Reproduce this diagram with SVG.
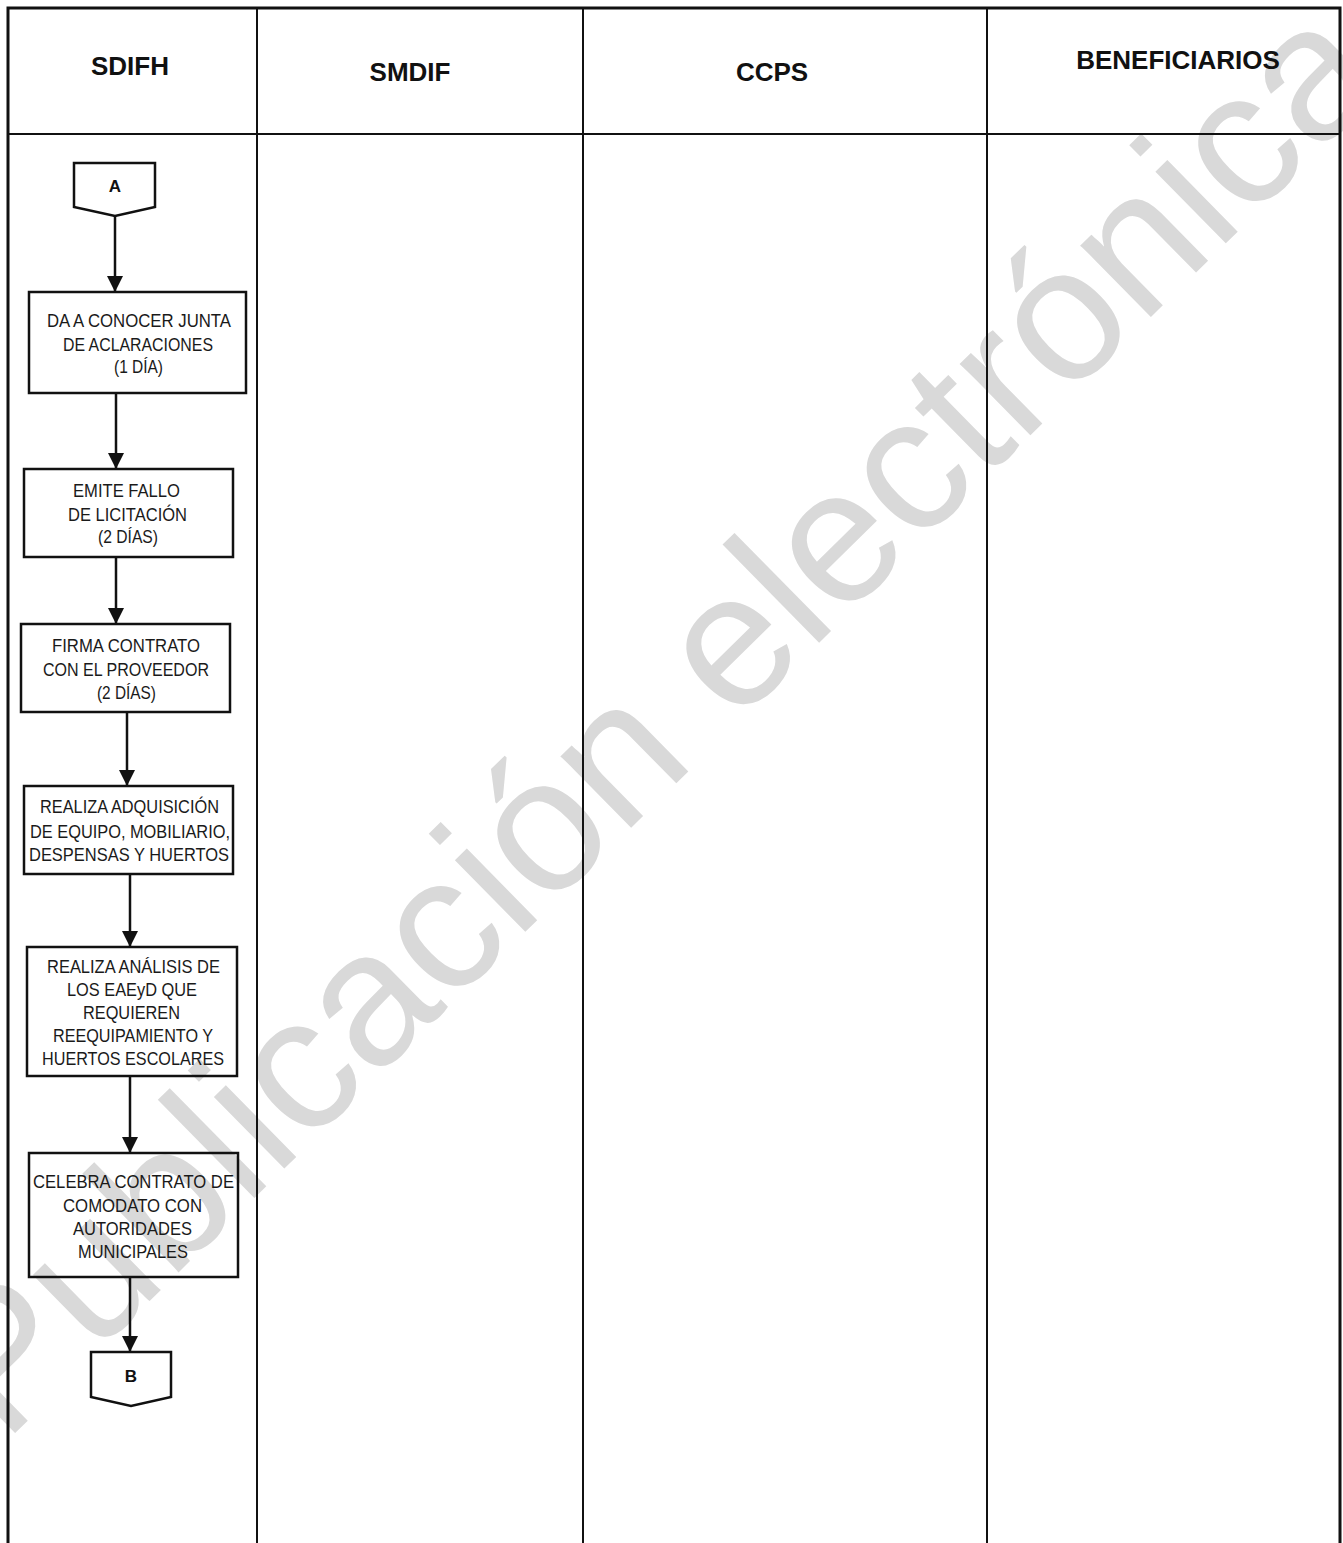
<svg xmlns="http://www.w3.org/2000/svg" width="1343" height="1543" viewBox="0 0 1343 1543">
<style>
  .wm { font-family: "Liberation Sans", Arial, sans-serif; font-size: 190px; fill: #d9d9d9; }
  .lane { stroke: #111; stroke-width: 2; fill: none; }
  .frame { stroke: #111; stroke-width: 3; fill: none; }
  .hdr { font-family: "Liberation Sans", Arial, sans-serif; font-size: 26px; font-weight: bold; fill: #111; text-anchor: middle; }
  .box { fill: none; stroke: #111; stroke-width: 2.5; }
  .t { font-family: "Liberation Sans", Arial, sans-serif; font-size: 19px; fill: #1a1a1a; }
  .lbl { font-family: "Liberation Sans", Arial, sans-serif; font-size: 17px; font-weight: bold; fill: #111; text-anchor: middle; }
  .edge { stroke: #111; stroke-width: 2.5; fill: none; marker-end: url(#arrow); }
</style>
<defs>
  <marker id="arrow" markerUnits="userSpaceOnUse" markerWidth="16" markerHeight="16" refX="16" refY="8" orient="auto">
    <path d="M0,0 L16,8 L0,16 z" fill="#111"/>
  </marker>
</defs>
<rect x="0" y="0" width="1343" height="1543" fill="#fff"/>
<text class="wm" transform="translate(4,1444) rotate(-44.5)">Publicación electrónica</text>

<g id="lanes">
  <path class="frame" d="M8,1543 V8 H1340 V1543"/>
  <line class="lane" x1="8" y1="134" x2="1340" y2="134"/>
  <line class="lane" x1="257" y1="8" x2="257" y2="1543"/>
  <line class="lane" x1="583" y1="8" x2="583" y2="1543"/>
  <line class="lane" x1="987" y1="8" x2="987" y2="1543"/>
  <text class="hdr" x="130" y="75">SDIFH</text>
  <text class="hdr" x="410" y="81">SMDIF</text>
  <text class="hdr" x="772" y="81">CCPS</text>
  <text class="hdr" x="1178" y="69">BENEFICIARIOS</text>
</g>

<g id="connectors">
  <line class="edge" x1="115" y1="216" x2="115" y2="292"/>
  <line class="edge" x1="116" y1="393" x2="116" y2="469"/>
  <line class="edge" x1="116" y1="557" x2="116" y2="624"/>
  <line class="edge" x1="127" y1="712" x2="127" y2="786"/>
  <line class="edge" x1="130" y1="874" x2="130" y2="947"/>
  <line class="edge" x1="130" y1="1076" x2="130" y2="1153"/>
  <line class="edge" x1="130" y1="1277" x2="130" y2="1352"/>
</g>

<g id="node-A">
  <path class="box" d="M74,163 H155 V207 L115,216 L74,207 Z"/>
  <text class="lbl" x="115" y="192">A</text>
</g>

<g id="node-1">
  <rect class="box" x="29" y="292" width="217" height="101"/>
  <text class="t" x="47" y="327" textLength="184" lengthAdjust="spacingAndGlyphs">DA A  CONOCER JUNTA</text>
  <text class="t" x="63" y="351" textLength="150" lengthAdjust="spacingAndGlyphs">DE ACLARACIONES</text>
  <text class="t" x="114" y="373" textLength="49" lengthAdjust="spacingAndGlyphs">(1 DÍA)</text>
</g>

<g id="node-2">
  <rect class="box" x="24" y="469" width="209" height="88"/>
  <text class="t" x="73" y="497" textLength="107" lengthAdjust="spacingAndGlyphs">EMITE FALLO</text>
  <text class="t" x="68" y="521" textLength="119" lengthAdjust="spacingAndGlyphs">DE LICITACIÓN</text>
  <text class="t" x="98" y="543" textLength="60" lengthAdjust="spacingAndGlyphs">(2 DÍAS)</text>
</g>

<g id="node-3">
  <rect class="box" x="21" y="624" width="209" height="88"/>
  <text class="t" x="52" y="652" textLength="148" lengthAdjust="spacingAndGlyphs">FIRMA CONTRATO</text>
  <text class="t" x="43" y="676" textLength="166" lengthAdjust="spacingAndGlyphs">CON EL PROVEEDOR</text>
  <text class="t" x="97" y="699" textLength="59" lengthAdjust="spacingAndGlyphs">(2 DÍAS)</text>
</g>

<g id="node-4">
  <rect class="box" x="24" y="786" width="209" height="88"/>
  <text class="t" x="40" y="813" textLength="179" lengthAdjust="spacingAndGlyphs">REALIZA  ADQUISICIÓN</text>
  <text class="t" x="30" y="838" textLength="200" lengthAdjust="spacingAndGlyphs">DE EQUIPO, MOBILIARIO,</text>
  <text class="t" x="29" y="861" textLength="200" lengthAdjust="spacingAndGlyphs">DESPENSAS  Y  HUERTOS</text>
</g>

<g id="node-5">
  <rect class="box" x="27" y="947" width="210" height="129"/>
  <text class="t" x="47" y="973" textLength="173" lengthAdjust="spacingAndGlyphs">REALIZA  ANÁLISIS  DE</text>
  <text class="t" x="67" y="996" textLength="130" lengthAdjust="spacingAndGlyphs">LOS EAEyD  QUE</text>
  <text class="t" x="83" y="1019" textLength="97" lengthAdjust="spacingAndGlyphs">REQUIEREN</text>
  <text class="t" x="53" y="1042" textLength="160" lengthAdjust="spacingAndGlyphs">REEQUIPAMIENTO Y</text>
  <text class="t" x="42" y="1065" textLength="182" lengthAdjust="spacingAndGlyphs">HUERTOS ESCOLARES</text>
</g>

<g id="node-6">
  <rect class="box" x="29" y="1153" width="209" height="124"/>
  <text class="t" x="33" y="1188" textLength="201" lengthAdjust="spacingAndGlyphs">CELEBRA  CONTRATO DE</text>
  <text class="t" x="63" y="1212" textLength="139" lengthAdjust="spacingAndGlyphs">COMODATO CON</text>
  <text class="t" x="73" y="1235" textLength="119" lengthAdjust="spacingAndGlyphs">AUTORIDADES</text>
  <text class="t" x="78" y="1258" textLength="110" lengthAdjust="spacingAndGlyphs">MUNICIPALES</text>
</g>

<g id="node-B">
  <path class="box" d="M91,1352 H171 V1397 L131,1406 L91,1397 Z"/>
  <text class="lbl" x="131" y="1382">B</text>
</g>
</svg>
